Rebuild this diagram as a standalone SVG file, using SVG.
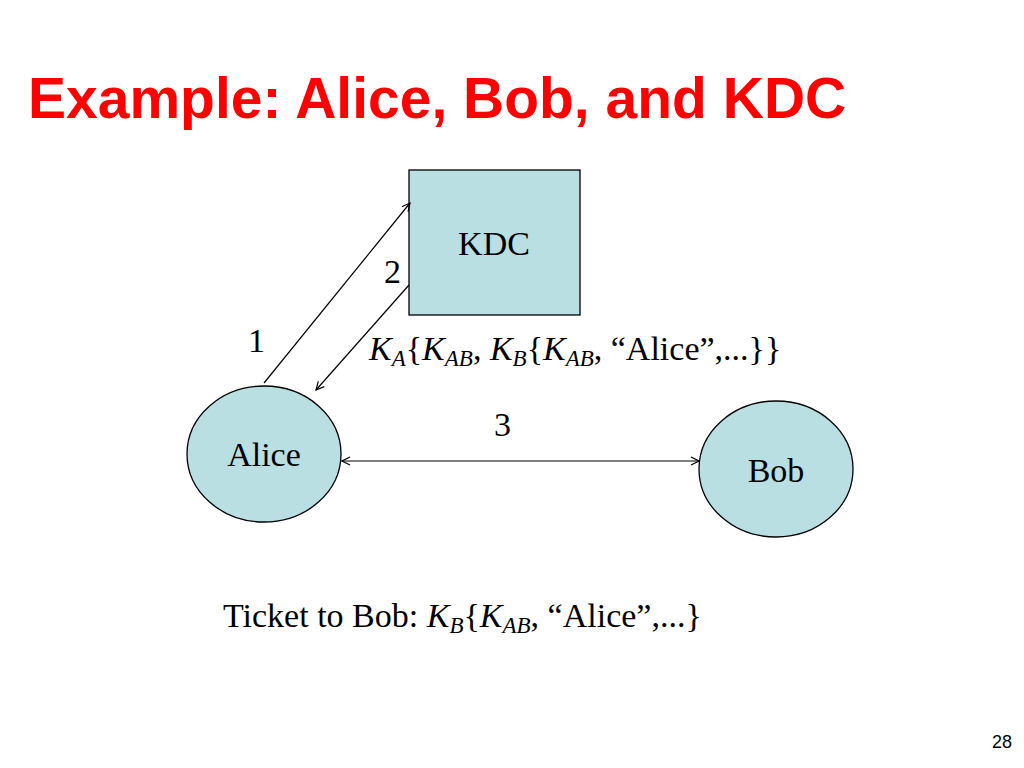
<svg xmlns="http://www.w3.org/2000/svg" width="1024" height="768" viewBox="0 0 1024 768">
<style>
.t{font-family:"Liberation Serif","Times New Roman",serif;font-size:34px;fill:#000}
.i{font-style:italic}
.s{font-size:23px;font-style:italic}
.node{fill:#b9dfe3;stroke:#000;stroke-width:1.3}
.c{stroke:#000;stroke-width:1.2;fill:none}
</style>
<defs>
<marker id="ah" viewBox="0 0 10 10" refX="9" refY="5" markerWidth="10" markerHeight="10" markerUnits="userSpaceOnUse" orient="auto-start-reverse">
<path d="M1,1 L9,5 L1,9" fill="none" stroke="#000" stroke-width="1.2"/>
</marker>
</defs>
<rect width="1024" height="768" fill="#fff"/>
<text x="28" y="118" font-family="Liberation Sans, Arial, sans-serif" font-weight="bold" font-size="57" fill="#ff0000">Example: Alice, Bob, and KDC</text>
<g id="kdc"><rect class="node" x="409" y="170" width="171" height="145"/><text class="t" x="494" y="255" text-anchor="middle">KDC</text></g>
<g id="alice"><ellipse class="node" cx="264" cy="454" rx="77" ry="68"/><text class="t" x="264" y="466" text-anchor="middle">Alice</text></g>
<g id="bob"><ellipse class="node" cx="776" cy="469" rx="77" ry="68"/><text class="t" x="776" y="482" text-anchor="middle">Bob</text></g>
<g id="connectors">
<line class="c" x1="264" y1="383" x2="410" y2="203" marker-end="url(#ah)"/>
<line class="c" x1="409" y1="285" x2="316" y2="390" marker-end="url(#ah)"/>
<line class="c" x1="342" y1="461" x2="699" y2="461" marker-start="url(#ah)" marker-end="url(#ah)"/>
</g>
<text class="t" x="248" y="352">1</text>
<text class="t" x="384" y="283">2</text>
<text class="t" x="494" y="436">3</text>
<text class="t" x="369" y="360"><tspan class="i">K</tspan><tspan class="s" dy="6">A</tspan><tspan dy="-6">{</tspan><tspan class="i">K</tspan><tspan class="s" dy="6">AB</tspan><tspan dy="-6">, </tspan><tspan class="i">K</tspan><tspan class="s" dy="6">B</tspan><tspan dy="-6">{</tspan><tspan class="i">K</tspan><tspan class="s" dy="6">AB</tspan><tspan dy="-6">, “Alice”,...}}</tspan></text>
<text class="t" x="223" y="627">Ticket to Bob: <tspan class="i">K</tspan><tspan class="s" dy="6">B</tspan><tspan dy="-6">{</tspan><tspan class="i">K</tspan><tspan class="s" dy="6">AB</tspan><tspan dy="-6">, “Alice”,...}</tspan></text>
<text x="1012" y="748" text-anchor="end" font-family="Liberation Sans, Arial, sans-serif" font-size="18" fill="#000">28</text>
</svg>
